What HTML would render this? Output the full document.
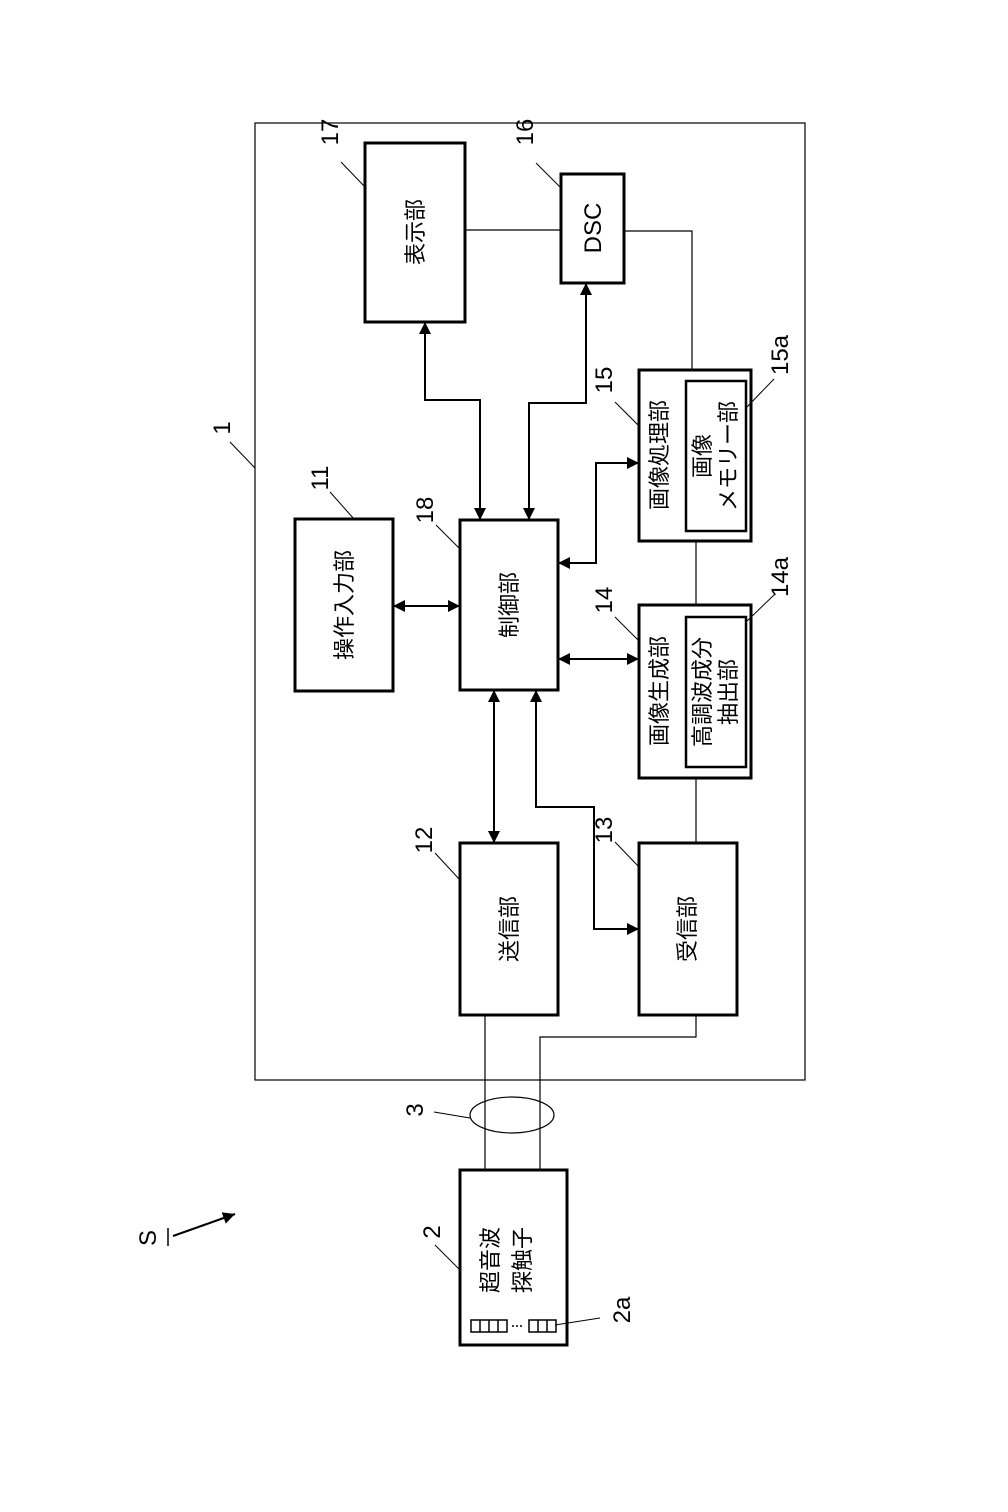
<!DOCTYPE html>
<html><head><meta charset="utf-8"><style>
html,body{margin:0;padding:0;background:#fff;}
svg{display:block;}
text{font-family:"Liberation Sans","Noto Sans CJK JP",sans-serif;fill:#000;}
</style></head><body>
<svg width="1008" height="1512" viewBox="0 0 1008 1512" xmlns="http://www.w3.org/2000/svg">
<defs>
<marker id="a" viewBox="0 0 10 10" refX="10" refY="5" markerWidth="12" markerHeight="12" markerUnits="userSpaceOnUse" orient="auto-start-reverse">
<path d="M0,0 L10,5 L0,10 z" fill="#000"/></marker>
</defs>
<g fill="none" stroke="#000">
<rect x="255" y="123" width="550" height="957" stroke-width="1.2"/>
<g stroke-width="3">
<rect x="365" y="143" width="100" height="179"/>
<rect x="561" y="174" width="63" height="109"/>
<rect x="295" y="519" width="98" height="172"/>
<rect x="460" y="520" width="98" height="170"/>
<rect x="639" y="370" width="112" height="171"/>
<rect x="639" y="605" width="112" height="173"/>
<rect x="460" y="843" width="98" height="172"/>
<rect x="639" y="843" width="98" height="172"/>
<rect x="460" y="1170" width="107" height="175"/>
</g>
<g stroke-width="2.5">
<rect x="686" y="381" width="60" height="150"/>
<rect x="686" y="617" width="60" height="150"/>
</g>
<g stroke-width="1.2">
<line x1="465" y1="230" x2="561" y2="230"/>
<polyline points="624,231 692,231 692,370"/>
<line x1="696" y1="541" x2="696" y2="605"/>
<line x1="696" y1="778" x2="696" y2="843"/>
<polyline points="696,1015 696,1037 540,1037 540,1170"/>
<line x1="485" y1="1015" x2="485" y2="1170"/>
<ellipse cx="512" cy="1115" rx="42" ry="18"/>
</g>
<g stroke-width="2">
<polyline points="425,322 425,400 480,400 480,520" marker-start="url(#a)" marker-end="url(#a)"/>
<polyline points="586,283 586,403 529,403 529,520" marker-start="url(#a)" marker-end="url(#a)"/>
<line x1="393" y1="606" x2="460" y2="606" marker-start="url(#a)" marker-end="url(#a)"/>
<polyline points="558,563 596,563 596,463 639,463" marker-start="url(#a)" marker-end="url(#a)"/>
<line x1="558" y1="659" x2="639" y2="659" marker-start="url(#a)" marker-end="url(#a)"/>
<line x1="494" y1="690" x2="494" y2="843" marker-start="url(#a)" marker-end="url(#a)"/>
<polyline points="536,690 536,807 594,807 594,929 639,929" marker-start="url(#a)" marker-end="url(#a)"/>
<line x1="173" y1="1236" x2="235" y2="1214" marker-end="url(#a)"/>
</g>
<g stroke-width="1">
<line x1="230" y1="442" x2="255" y2="468"/>
<line x1="341" y1="162" x2="365" y2="187"/>
<line x1="536" y1="163" x2="561" y2="188"/>
<line x1="330" y1="492" x2="354" y2="519"/>
<line x1="436" y1="525" x2="460" y2="549"/>
<line x1="615" y1="402" x2="639" y2="426"/>
<line x1="615" y1="617" x2="639" y2="641"/>
<line x1="435" y1="853" x2="460" y2="880"/>
<line x1="615" y1="842" x2="639" y2="867"/>
<line x1="435" y1="1245" x2="460" y2="1270"/>
<line x1="434" y1="1112" x2="470" y2="1118"/>
<line x1="746" y1="408" x2="774" y2="379"/>
<line x1="746" y1="622" x2="775" y2="594"/>
<line x1="555" y1="1325" x2="600" y2="1318"/>
</g>
<g stroke-width="1.5">
<rect x="471" y="1320" width="36" height="12"/>
<line x1="480" y1="1320" x2="480" y2="1332"/><line x1="489" y1="1320" x2="489" y2="1332"/><line x1="498" y1="1320" x2="498" y2="1332"/>
<rect x="529" y="1320" width="27" height="12"/>
<line x1="538" y1="1320" x2="538" y2="1332"/><line x1="547" y1="1320" x2="547" y2="1332"/>
<line x1="512" y1="1326" x2="524" y2="1326" stroke-dasharray="2,2"/>
<line x1="168" y1="1228" x2="168" y2="1246"/>
</g>
</g>
<g font-size="22" text-anchor="middle">
<text transform="translate(423,232) rotate(-90)">表示部</text>
<text transform="translate(601,228) rotate(-90)" font-size="24">DSC</text>
<text transform="translate(352,605) rotate(-90)">操作入力部</text>
<text transform="translate(517,605) rotate(-90)">制御部</text>
<text transform="translate(667,455) rotate(-90)">画像処理部</text>
<text transform="translate(710,456) rotate(-90)">画像</text>
<text transform="translate(736,456) rotate(-90)">メモリー部</text>
<text transform="translate(667,691) rotate(-90)">画像生成部</text>
<text transform="translate(710,692) rotate(-90)">高調波成分</text>
<text transform="translate(736,692) rotate(-90)">抽出部</text>
<text transform="translate(517,929) rotate(-90)">送信部</text>
<text transform="translate(695,929) rotate(-90)">受信部</text>
<text transform="translate(498,1260) rotate(-90)">超音波</text>
<text transform="translate(530,1260) rotate(-90)">探触子</text>
</g>
<g font-size="24" text-anchor="middle">
<text transform="translate(230,428) rotate(-90)">1</text>
<text transform="translate(338,132) rotate(-90)">17</text>
<text transform="translate(533,132) rotate(-90)">16</text>
<text transform="translate(328,478) rotate(-90)">11</text>
<text transform="translate(433,510) rotate(-90)">18</text>
<text transform="translate(612,380) rotate(-90)">15</text>
<text transform="translate(612,600) rotate(-90)">14</text>
<text transform="translate(432,840) rotate(-90)">12</text>
<text transform="translate(612,830) rotate(-90)">13</text>
<text transform="translate(423,1110) rotate(-90)">3</text>
<text transform="translate(440,1232) rotate(-90)">2</text>
<text transform="translate(788,355) rotate(-90)">15a</text>
<text transform="translate(788,577) rotate(-90)">14a</text>
<text transform="translate(630,1310) rotate(-90)">2a</text>
<text transform="translate(156,1238) rotate(-90)">S</text>
</g>
</svg>
</body></html>
